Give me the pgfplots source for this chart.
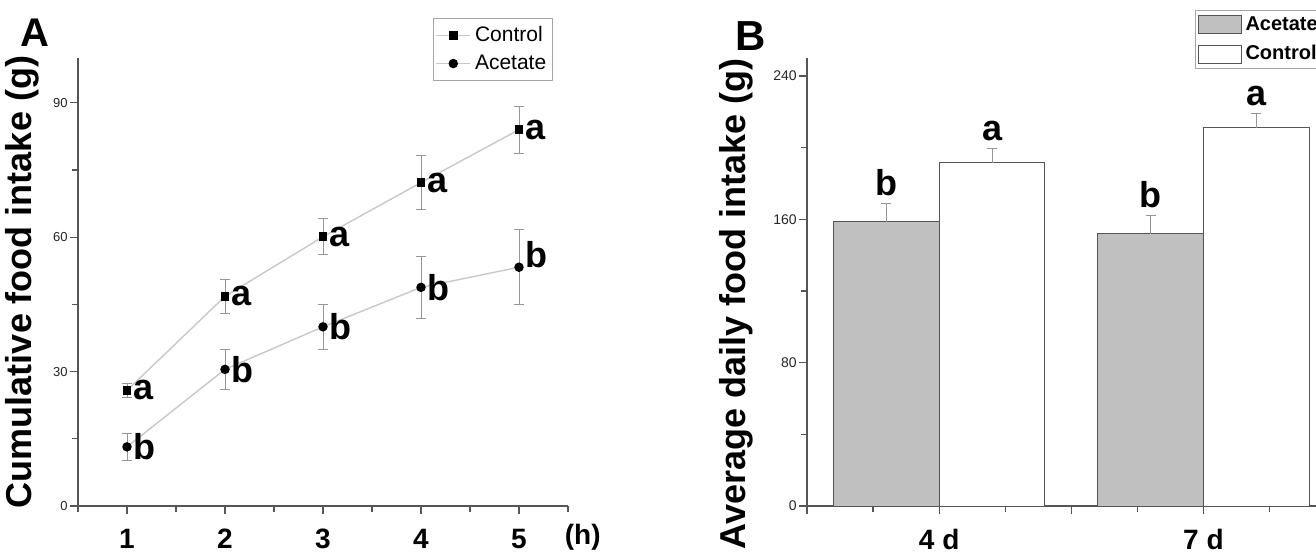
\documentclass[border=0pt]{standalone}
\usepackage{fontspec}
\setmainfont{Liberation Sans}
\usepackage{pgfplots}
\pgfplotsset{compat=1.18}
\definecolor{axgray}{RGB}{85,85,85}
\definecolor{linegray}{RGB}{200,200,200}
\definecolor{errgray}{RGB}{150,150,150}
\definecolor{bargray}{RGB}{192,192,192}

\pgfplotsset{
  myaxis/.style={
    scale only axis,
    height=224pt,
    axis lines=left,
    axis line style={-, draw=axgray, line width=0.8pt},
    tick align=outside,
    tick style={draw=axgray, line width=0.6pt},
    major tick length=4pt,
    minor tick length=3pt,
    /pgf/number format/assume math mode=true,
    yticklabel style={font=\fontsize{6.5}{6.5}\selectfont, text=black!85, inner sep=1pt},
    xticklabel style={font=\bfseries\fontsize{14}{14}\selectfont, inner sep=0pt, yshift=-7.5pt},
    ylabel style={font=\bfseries\fontsize{18}{18}\selectfont, inner sep=0pt, anchor=south},
    clip=false,
  },
  boxlegend/.style={legend image code/.code={\draw[##1] (0pt,-4.5pt) rectangle (21.5pt,4.5pt);}},
}

\begin{document}
\begin{tikzpicture}
% ---------------- Panel A ----------------
\begin{axis}[myaxis,
  at={(39pt,23.5pt)}, anchor=south west, width=245pt,
  xmin=0.5, xmax=5.5, ymin=0, ymax=100,
  xtick={1,2,3,4,5},
  minor xtick={0.5,1.5,2.5,3.5,4.5,5.5},
  ytick={0,30,60,90}, minor ytick={15,45,75},
  ylabel={Cumulative food intake (g)},
  ylabel style={at={(axis description cs:-0.079,0.5)}},
  xlabel={(h)},
  xlabel style={at={(axis description cs:1.03,0)}, anchor=north, inner sep=0pt, yshift=-9pt, font=\bfseries\fontsize{14}{14}\selectfont},
  legend style={at={(0.7245,1.089)}, anchor=north west, draw=gray!70, line width=0.5pt,
    font=\fontsize{10.5}{12}\selectfont, inner xsep=1pt, inner ysep=2pt, row sep=1pt,
    cells={anchor=west}},
]
\addplot[linegray, line width=0.7pt, mark=square*, mark size=1.8pt,
  mark options={draw=black, fill=black},
  error bars/.cd, y dir=both, y explicit,
  error bar style={errgray, line width=0.4pt},
  error mark options={rotate=90, errgray, mark size=2.5pt, line width=0.4pt}]
  table[x=x, y=y, y error=e] {
x y e
1 25.8 1.6
2 46.8 3.7
3 60.1 4.0
4 72.2 6.0
5 84.0 5.2
};
\addplot[linegray, line width=0.7pt, mark=*, mark size=2pt,
  mark options={draw=black, fill=black},
  error bars/.cd, y dir=both, y explicit,
  error bar style={errgray, line width=0.4pt},
  error mark options={rotate=90, errgray, mark size=2.5pt, line width=0.4pt}]
  table[x=x, y=y, y error=e] {
x y e
1 13.2 3.0
2 30.5 4.5
3 40.0 5.0
4 48.8 7.0
5 53.3 8.4
};
\legend{Control, Acetate}
% significance letters
\addplot[forget plot, draw=none, mark=none, nodes near coords, point meta=explicit symbolic,
  every node near coord/.append style={anchor=west, inner sep=0pt, xshift=3pt,
    font=\bfseries\fontsize{18}{18}\selectfont}]
  table[x=x, y=y, meta=l] {
x y l
1 25.8 a
2 46.8 a
3 60.1 a
4 72.2 a
5 84.0 a
1 13.2 b
2 30.5 b
3 40.0 b
4 48.8 b
5 56.2 b
};
\node[font=\bfseries\fontsize{20}{20}\selectfont, inner sep=0pt] at (axis description cs:-0.087,1.056) {A};
\end{axis}

% ---------------- Panel B ----------------
\begin{axis}[myaxis,
  at={(403.5pt,23.5pt)}, anchor=south west, width=264.3pt,
  xmin=0.5, xmax=2.5, ymin=0, ymax=250,
  xtick={0.5,1,1.5,2,2.5}, xticklabels={,4 d,,7 d,},
  minor xtick={0.75,1.25,1.75,2.25},
  ytick={0,80,160,240}, minor ytick={40,120,200},
  yticklabel style={font=\fontsize{7}{7}\selectfont},
  ylabel={Average daily food intake (g)},
  ylabel style={at={(axis description cs:-0.1003,0.451)}},
  legend style={at={(0.734,1.107)}, anchor=north west, draw=gray!70, line width=0.5pt,
    font=\bfseries\fontsize{10}{12}\selectfont, inner xsep=1pt, inner ysep=1pt, row sep=2pt,
    cells={anchor=west}},
]
\addplot[ybar, bar width=0.4, bar shift=0pt, fill=bargray, draw=axgray, line width=0.5pt,
  boxlegend,
  error bars/.cd, y dir=plus, y explicit,
  error bar style={errgray, line width=0.5pt},
  error mark options={rotate=90, errgray, mark size=2.5pt, line width=0.5pt}]
  coordinates {(0.8,158.5) +- (0,10.2) (1.8,151.8) +- (0,10.2)};
\addplot[ybar, bar width=0.4, bar shift=0pt, fill=white, draw=axgray, line width=0.5pt,
  boxlegend,
  error bars/.cd, y dir=plus, y explicit,
  error bar style={errgray, line width=0.5pt},
  error mark options={rotate=90, errgray, mark size=2.5pt, line width=0.5pt}]
  coordinates {(1.2,191.5) +- (0,8.1) (2.2,211.0) +- (0,8.0)};
\legend{Acetate, Control}
\addplot[forget plot, draw=none, mark=none, nodes near coords, point meta=explicit symbolic,
  every node near coord/.append style={anchor=south, inner sep=0pt, yshift=3.5pt,
    font=\bfseries\fontsize{18}{18}\selectfont}]
  table[x=x, y=y, meta=l] {
x y l
0.8 168.7 b
1.2 199.6 a
1.8 162.0 b
2.2 219.0 a
};
\node[font=\bfseries\fontsize{21}{21}\selectfont, inner sep=0pt] at (axis description cs:-0.106,1.048) {B};
\end{axis}

\pgfresetboundingbox
\path[use as bounding box] (0,0) rectangle (658pt,276.5pt);
\end{tikzpicture}
\end{document}
